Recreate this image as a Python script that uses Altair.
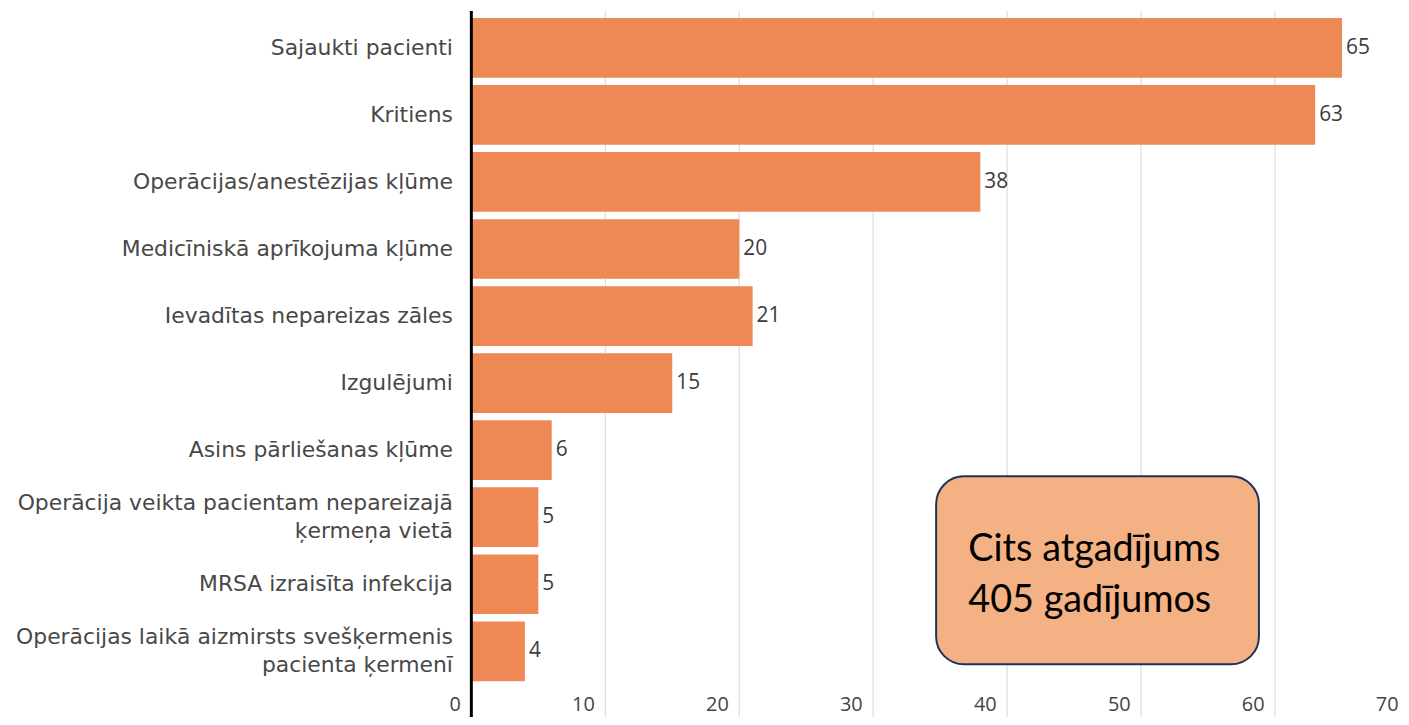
import altair as alt
import pandas as pd

categories = [
    "Sajaukti pacienti",
    "Kritiens",
    "Operācijas/anestēzijas kļūme",
    "Medicīniskā aprīkojuma kļūme",
    "Ievadītas nepareizas zāles",
    "Izgulējumi",
    "Asins pārliešanas kļūme",
    "Operācija veikta pacientam nepareizajā|ķermeņa vietā",
    "MRSA izraisīta infekcija",
    "Operācijas laikā aizmirsts svešķermenis|pacienta ķermenī",
]
values = [65, 63, 38, 20, 21, 15, 6, 5, 5, 4]
tick_values = [0, 10, 20, 30, 40, 50, 60, 70]
note_lines = "Cits atgadījums\n405 gadījumos"

FONT = "Open Sans"
CAT_FONT = "DejaVu Sans"
BAR = "#EE8955"

df = pd.DataFrame({"cat": categories, "val": values})
ticks_df = pd.DataFrame({"t": tick_values})
zero_df = pd.DataFrame({"t": [0]})
box_df = pd.DataFrame({"x1": [34.7], "x2": [58.8]})
txt_df = pd.DataFrame({"x": [37.1], "txt": [note_lines]})

xscale = alt.Scale(domain=[0, 70], range=[0, 943], nice=False, zero=True)
yscale = alt.Scale(domain=categories, paddingInner=0.11, paddingOuter=0.104)

grid = alt.Chart(ticks_df).mark_rule(color="#d6d6d6", strokeWidth=1).encode(
    x=alt.X("t:Q", scale=xscale),
    y=alt.value(0),
    y2=alt.value(760),
)

bars = alt.Chart(df).mark_bar(color=BAR).encode(
    x=alt.X(
        "val:Q",
        scale=xscale,
        axis=alt.Axis(
            values=tick_values,
            grid=False,
            ticks=False,
            domain=False,
            title=None,
            labelAlign="right",
            labelOffset=-11,
            labelBaseline="middle",
            labelPadding=16,
            labelFont=FONT,
            labelFontSize=20,
            labelColor="#444444",
        ),
    ),
    y=alt.Y(
        "cat:N",
        scale=yscale,
        sort=categories,
        axis=alt.Axis(
            title=None,
            ticks=False,
            domain=False,
            labelPadding=19,
            labelExpr="split(datum.value, '|')",
            labelOffset={"expr": "indexof(datum.value, '|') >= 0 ? -14 : 0"},
            labelLineHeight=28,
            labelFont=CAT_FONT,
            labelFontSize=22,
            labelColor="#484848",
            labelLimit=600,
        ),
    ),
)

labels = alt.Chart(df).mark_text(
    align="left", baseline="middle", dx=4, font=FONT, fontSize=21, color="#3c3c3c"
).encode(
    x=alt.X("val:Q", scale=xscale),
    y=alt.Y("cat:N", scale=yscale, sort=categories),
    text=alt.Text("val:Q"),
)

axis_line = alt.Chart(zero_df).mark_rule(color="black", strokeWidth=3).encode(
    x=alt.X("t:Q", scale=xscale),
    y=alt.value(0),
    y2=alt.value(760),
)

box = alt.Chart(box_df).mark_rect(
    fill="#F4B183", stroke="#1F3256", strokeWidth=2, cornerRadius=28
).encode(
    x=alt.X("x1:Q", scale=xscale),
    x2="x2:Q",
    y=alt.value(468),
    y2=alt.value(657),
)

note = alt.Chart(txt_df).mark_text(
    align="left", baseline="middle", font="Lato", fontSize=38, color="black",
    lineBreak="\n", lineHeight=51,
).encode(
    x=alt.X("x:Q", scale=xscale),
    y=alt.value(542),
    text="txt:N",
)

chart = alt.layer(grid, bars, axis_line, labels, box, note).properties(
    width=935,
    height=681,
    autosize=alt.AutoSizeParams(type="none"),
    padding={"left": 466, "top": 1, "right": 0, "bottom": 27},
).configure_view(stroke=None)

chart.save("out.html", embed_options={"renderer": "svg", "actions": False})
